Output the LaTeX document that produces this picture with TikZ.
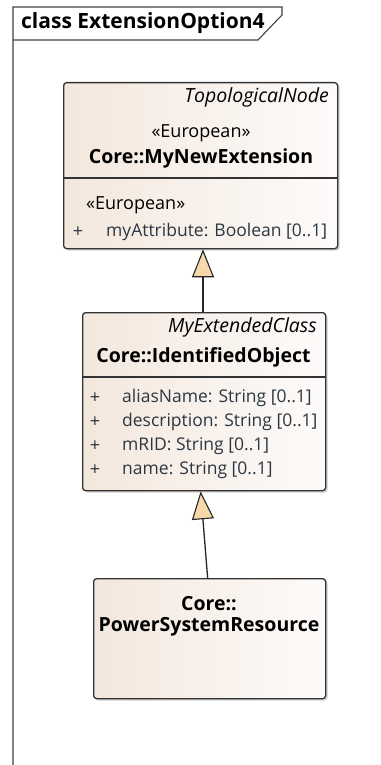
\documentclass[tikz,border=0pt]{standalone}
\usepackage{fontspec}
\setmainfont{Open Sans}
\usetikzlibrary{arrows.meta,shadows}
\definecolor{boxl}{RGB}{243,231,221}
\definecolor{boxr}{RGB}{253,251,250}
\definecolor{tri}{RGB}{245,217,170}
\definecolor{attr}{RGB}{45,55,65}
\begin{document}
\begin{tikzpicture}[x=1pt,y=-1pt,
  umlbox/.style={draw=black!80,line width=1.3pt,rounded corners=3pt,left color=boxl,right color=boxr,shading angle=90,anchor=north west,inner sep=0pt,
    drop shadow={shadow xshift=2pt,shadow yshift=-2pt,fill=black!35,opacity=0.5}},
  regtext/.style={font=\fontsize{18}{20}\selectfont,inner sep=0pt},
  boldtext/.style={font=\fontsize{19.5}{21}\selectfont\bfseries,inner sep=0pt},
  titletext/.style={font=\fontsize{21}{22}\selectfont\bfseries,inner sep=0pt},
  itext/.style={font=\fontsize{19.5}{21}\selectfont\itshape,inner sep=0pt,anchor=east},
  attrtext/.style={font=\fontsize{17.5}{20}\selectfont,text=attr,inner sep=0pt,anchor=west},
  gen/.style={line width=1.3pt,draw=black!85,-{Triangle[length=28pt,width=22pt,fill=tri,line width=1.1pt]}},
  frameline/.style={line width=1.1pt,draw=black!75}
]
\useasboundingbox (0,0) rectangle (380,765);
% frame
\draw[frameline] (13,765) -- (13,7) -- (282,7) -- (282,15) -- (258,40) -- (13,40);
\node[titletext,anchor=west] (title) at (21,23) {class ExtensionOption4};

% box 1
\node[umlbox,minimum width=274pt,minimum height=166pt] (b1) at (63,82) {};
\draw[line width=1.3pt,draw=black!80] (63,178) -- (337,178);
\node[itext] (b1s) at (329,97) {TopologicalNode};
\node[regtext] (b1st) at (201,133) {«European»};
\node[boldtext] (b1n) at (201,158) {Core::MyNewExtension};
\node[regtext,anchor=west] (b1ast) at (86,205) {«European»};
\node[regtext,text=attr] (b1p) at (78,232) {+};
\node[attrtext] (b1a) at (106,232) {myAttribute: Boolean [0..1]};

% box 2
\node[umlbox,minimum width=243pt,minimum height=178pt] (b2) at (82,312) {};
\draw[line width=1.3pt,draw=black!80] (82,377) -- (325,377);
\node[itext] (b2s) at (317,327) {MyExtendedClass};
\node[boldtext] (b2n) at (203.5,357) {Core::IdentifiedObject};
\foreach \y/\t [count=\i] in {398/{aliasName: String [0..1]},422/{description: String [0..1]},446/{mRID: String [0..1]},470/{name: String [0..1]}}{
  \node[regtext,text=attr] (b2p\i) at (95,\y) {+};
  \node[attrtext] (b2a\i) at (122,\y) {\t};
}

% box 3
\node[umlbox,minimum width=232pt,minimum height=120pt] (b3) at (93,578) {};
\node[boldtext] (b3a) at (209,604) {Core::};
\node[boldtext] (b3b) at (209,627) {PowerSystemResource};

% generalizations
\draw[gen] (b2.north -| 203,0) -- (b1.south -| 203,0);
\draw[gen] ([xshift=-2pt]b3.north) -- ([xshift=-3.5pt]b2.south);
\end{tikzpicture}
\end{document}
